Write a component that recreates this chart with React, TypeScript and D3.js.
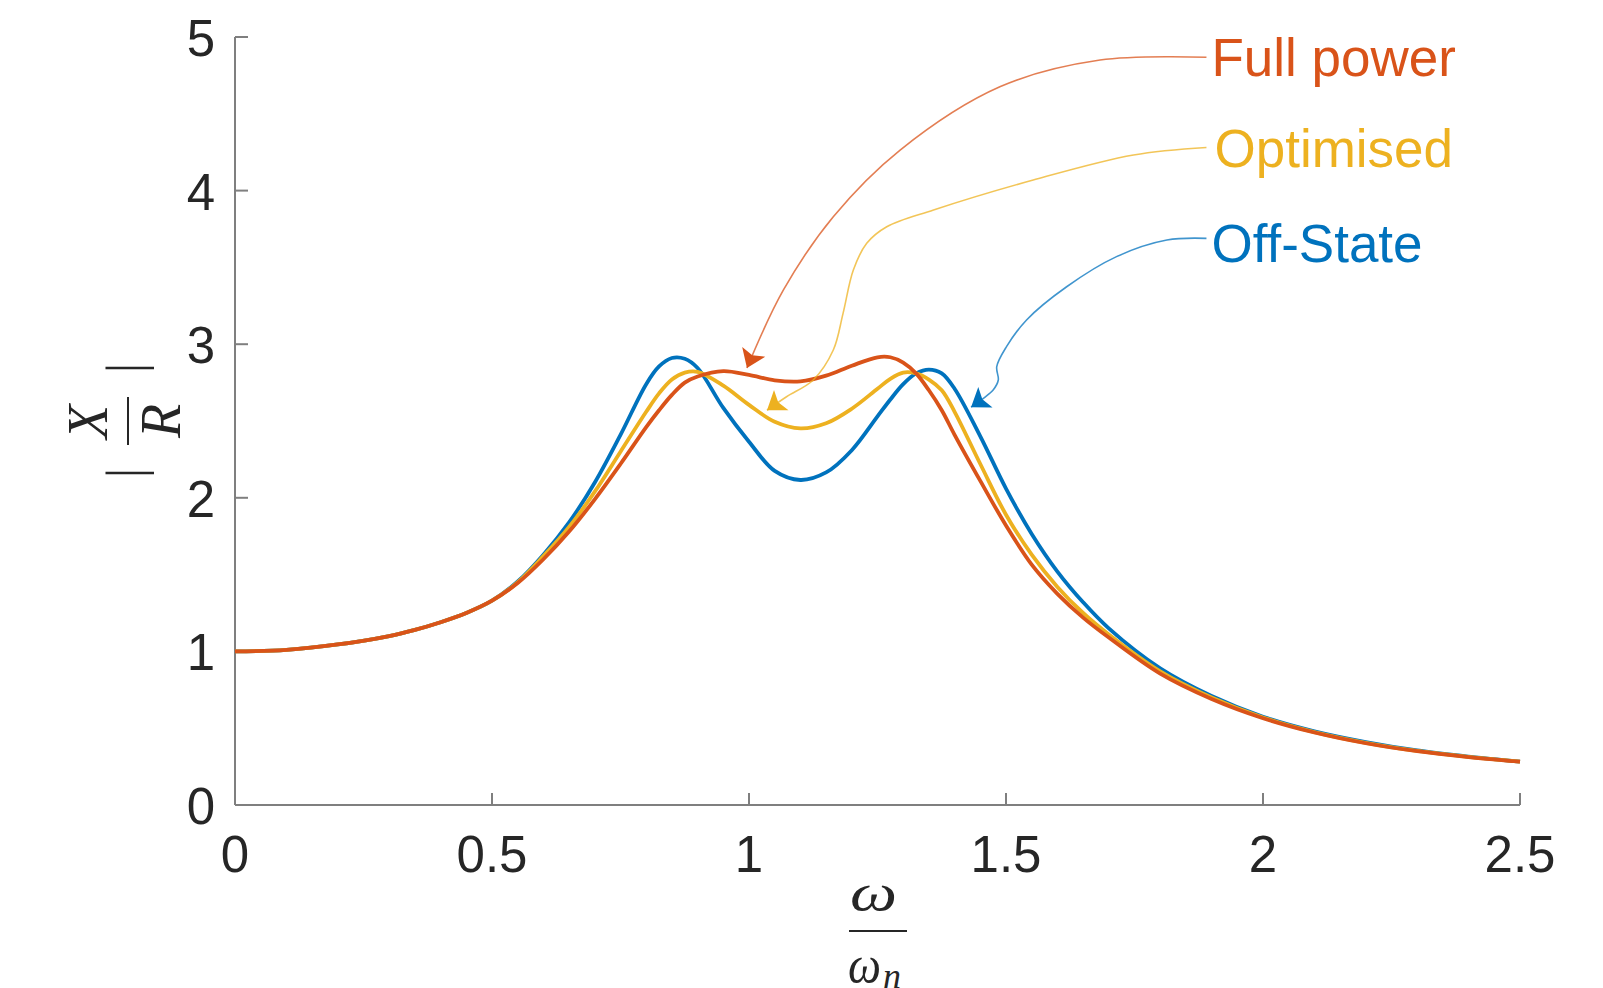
import * as d3 from 'd3';

// frequency ratio w / wn
const omega = [0, 0.1, 0.2, 0.3, 0.35, 0.4, 0.45, 0.5, 0.55, 0.6, 0.65, 0.7, 0.75, 0.8, 0.825, 0.85, 0.875, 0.9, 0.95, 1.0, 1.05, 1.1, 1.15, 1.2, 1.25, 1.275, 1.3, 1.325, 1.35, 1.375, 1.4, 1.45, 1.5, 1.55, 1.6, 1.65, 1.7, 1.8, 1.9, 2.0, 2.1, 2.2, 2.3, 2.4, 2.5];

// |X/R|
const offState = [1.0, 1.01, 1.045, 1.1, 1.14, 1.19, 1.25, 1.33, 1.455, 1.63, 1.84, 2.1, 2.41, 2.74, 2.855, 2.91, 2.905, 2.845, 2.585, 2.365, 2.175, 2.116, 2.165, 2.31, 2.53, 2.64, 2.74, 2.81, 2.835, 2.81, 2.71, 2.4, 2.06, 1.765, 1.52, 1.32, 1.15, 0.89, 0.71, 0.575, 0.48, 0.41, 0.355, 0.315, 0.282];
const optimised = [1.0, 1.01, 1.045, 1.1, 1.14, 1.19, 1.25, 1.33, 1.45, 1.62, 1.81, 2.04, 2.3, 2.56, 2.68, 2.77, 2.815, 2.82, 2.73, 2.605, 2.495, 2.452, 2.485, 2.58, 2.71, 2.775, 2.815, 2.81, 2.77, 2.7, 2.56, 2.22, 1.89, 1.63, 1.42, 1.25, 1.11, 0.87, 0.7, 0.57, 0.475, 0.405, 0.352, 0.313, 0.282];
const fullPower = [1.0, 1.01, 1.045, 1.1, 1.14, 1.19, 1.25, 1.33, 1.445, 1.6, 1.78, 1.99, 2.22, 2.46, 2.57, 2.67, 2.75, 2.79, 2.825, 2.8, 2.765, 2.758, 2.795, 2.86, 2.915, 2.915, 2.88, 2.81, 2.7, 2.57, 2.41, 2.11, 1.82, 1.565, 1.375, 1.22, 1.09, 0.855, 0.69, 0.565, 0.472, 0.402, 0.35, 0.312, 0.282];

const xTicks = [0, 0.5, 1, 1.5, 2, 2.5];
const yTicks = [0, 1, 2, 3, 4, 5];

const seriesNames = ['Off-State', 'Optimised', 'Full power'];
const seriesValues = [offState, optimised, fullPower];
const seriesColors = ['#0072BD', '#EDB120', '#D95319'];

// annotation leader lines in data units, starting at the label
const offStateArrow: [number, number][] = [[1.89, 3.689], [1.813, 3.678], [1.715, 3.57], [1.618, 3.374], [1.54, 3.158], [1.501, 2.984], [1.482, 2.854], [1.485, 2.767], [1.475, 2.702], [1.456, 2.648], [1.432, 2.59]];
const optimisedArrow: [number, number][] = [[1.89, 4.281], [1.748, 4.232], [1.553, 4.069], [1.359, 3.874], [1.268, 3.765], [1.229, 3.657], [1.203, 3.483], [1.183, 3.201], [1.164, 2.962], [1.125, 2.767], [1.073, 2.658], [1.035, 2.57]];
const fullPowerArrow: [number, number][] = [[1.89, 4.868], [1.683, 4.85], [1.488, 4.676], [1.294, 4.264], [1.164, 3.83], [1.067, 3.353], [0.996, 2.845]];
const arrows = [offStateArrow, optimisedArrow, fullPowerArrow];
const labelDx = [5, 8, 5];
const labelDy = [24, 20, 19];

const W = 1603;
const H = 988;
const font = '"Liberation Sans", Arial, Helvetica, sans-serif';
const serif = '"Liberation Serif", "Times New Roman", serif';

export default function App() {
  const x = d3.scaleLinear().domain([0, 2.5]).range([235, 1520]);
  const y = d3.scaleLinear().domain([0, 5]).range([805, 37]);

  const line = d3.line<number>()
    .x((_, i) => x(omega[i]))
    .y(d => y(d))
    .curve(d3.curveCatmullRom.alpha(0.5));

  const arrowLine = d3.line<[number, number]>()
    .x(d => x(d[0]))
    .y(d => y(d[1]))
    .curve(d3.curveCatmullRom.alpha(0.5));

  return (
    <svg width={W} height={H} style={{ position: 'absolute', left: 0, top: 0, background: '#fff' }}>
      <defs>
        {seriesColors.map((c, i) => (
          <marker key={i} id={`head${i}`} markerUnits="userSpaceOnUse" markerWidth={30} markerHeight={30}
            viewBox="-2 -12 18 24" refX={14} refY={0} orient="auto">
            <path d="M0,-10 L14,0 L0,10 L3,0 Z" fill={c} />
          </marker>
        ))}
      </defs>

      {/* axes */}
      <g stroke="#7f7f7f" strokeWidth={2} fill="none">
        <line x1={x(0)} x2={x(2.5)} y1={y(0)} y2={y(0)} />
        <line x1={x(0)} x2={x(0)} y1={y(0)} y2={y(5)} />
        {xTicks.map(t => <line key={t} x1={x(t)} x2={x(t)} y1={y(0)} y2={y(0) - 12} />)}
        {yTicks.map(t => <line key={t} x1={x(0)} x2={x(0) + 13} y1={y(t)} y2={y(t)} />)}
      </g>
      <g fontFamily={font} fontSize={51} fill="#262626">
        {xTicks.map(t => (
          <text key={t} x={x(t)} y={y(0) + 67} textAnchor="middle">{t}</text>
        ))}
        {yTicks.map(t => (
          <text key={t} x={215} y={y(t) + 19} textAnchor="end">{t}</text>
        ))}
      </g>

      {/* axis labels */}
      <g fontFamily={serif} fontStyle="italic" fill="#262626" transform="translate(128,421) rotate(-90)">
        <text x={-52} y={15} fontSize={52} fontStyle="normal" textAnchor="middle">|</text>
        <text x={-1} y={-21} fontSize={56} textAnchor="middle">X</text>
        <line x1={-24} x2={24} y1={0} y2={0} stroke="#262626" strokeWidth={2} />
        <text x={0} y={52} fontSize={56} textAnchor="middle">R</text>
        <text x={53} y={15} fontSize={52} fontStyle="normal" textAnchor="middle">|</text>
      </g>
      <g fontFamily={serif} fontStyle="italic" fill="#262626">
        <text x={850} y={910} fontSize={52} textLength={47} lengthAdjust="spacingAndGlyphs">ω</text>
        <line x1={849} x2={907} y1={931} y2={931} stroke="#262626" strokeWidth={2} />
        <text x={848} y={982} fontSize={52} textLength={33} lengthAdjust="spacingAndGlyphs">ω</text>
        <text x={883} y={988} fontSize={36}>n</text>
      </g>

      {/* curves */}
      {seriesValues.map((vals, i) => (
        <path key={seriesNames[i]} d={line(vals) ?? ''} fill="none" stroke={seriesColors[i]} strokeWidth={3.8} />
      ))}

      {/* annotations */}
      {arrows.map((pts, i) => (
        <g key={seriesNames[i]}>
          <path d={arrowLine(pts) ?? ''} fill="none" stroke={seriesColors[i]} strokeOpacity={0.75} strokeWidth={1.6}
            markerEnd={`url(#head${i})`} />
          <text x={x(pts[0][0]) + labelDx[i]} y={y(pts[0][1]) + labelDy[i]} fontFamily={font} fontSize={53} fill={seriesColors[i]}>
            {seriesNames[i]}
          </text>
        </g>
      ))}
    </svg>
  );
}
